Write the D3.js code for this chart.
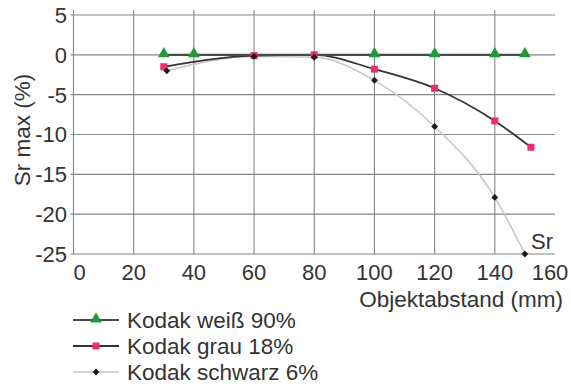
<!DOCTYPE html>
<html>
<head>
<meta charset="utf-8">
<script src="https://cdn.jsdelivr.net/npm/d3@7.9.0/dist/d3.min.js"></script>
<style>
  body { margin: 0; background: #fff; }
  svg text { font-family: "Liberation Sans", Arial, sans-serif; fill: #333; }
</style>
</head>
<body>
<svg id="chart" width="571" height="390"></svg>
<script>
// data
const xTicks = [0, 20, 40, 60, 80, 100, 120, 140, 160];
const yTicks = [5, 0, -5, -10, -15, -20, -25];

const weissX = [30, 40, 100, 120, 140, 150];
const weissY = [0, 0, 0, 0, 0, 0];

const grauX = [30, 60, 80, 100, 120, 140, 152];
const grauY = [-1.5, -0.1, 0, -1.8, -4.2, -8.3, -11.6];

const schwarzX = [31, 60, 80, 100, 120, 140, 150];
const schwarzY = [-2, -0.2, -0.3, -3.2, -9.0, -17.9, -25];

const series = [
  { name: "Kodak schwarz 6%", xs: schwarzX, ys: schwarzY, line: "#c9c9c9", lw: 1.6, marker: "diamond", color: "#1a1a1a" },
  { name: "Kodak grau 18%", xs: grauX, ys: grauY, line: "#333", lw: 1.8, marker: "square", color: "#ee2d6b" },
  { name: "Kodak weiß 90%", xs: weissX, ys: weissY, line: "#4a4a4a", lw: 2.2, marker: "triangle", color: "#1f9a3c" }
];
const legendOrder = ["Kodak weiß 90%", "Kodak grau 18%", "Kodak schwarz 6%"];
const markerOrder = ["Kodak weiß 90%", "Kodak grau 18%", "Kodak schwarz 6%"];

const svg = d3.select("#chart");
const x = d3.scaleLinear().domain([0, 160]).range([73.5, 555]);
const y = d3.scaleLinear().domain([-25, 5]).range([254, 15]);

// grid
const grid = svg.append("g").attr("stroke", "#858585").attr("stroke-width", 1.1);
grid.selectAll(".v")
  .data(xTicks.filter(d => d < 160))
  .join("line")
  .attr("x1", d => x(d)).attr("x2", d => x(d))
  .attr("y1", y(5) - 5).attr("y2", y(-25));
grid.selectAll(".h")
  .data(yTicks)
  .join("line")
  .attr("x1", x(0) - 3).attr("x2", x(160))
  .attr("y1", d => y(d)).attr("y2", d => y(d));

// tick labels
svg.append("g")
  .selectAll("text")
  .data(yTicks)
  .join("text")
  .attr("x", 67)
  .attr("y", d => y(d))
  .attr("dy", "0.36em")
  .attr("text-anchor", "end")
  .style("font-size", "22px")
  .text(d => d);

svg.append("g")
  .selectAll("text")
  .data(xTicks)
  .join("text")
  .attr("x", (d, i) => x(d) + (i === 0 ? 6 : i === xTicks.length - 1 ? -5 : 0))
  .attr("y", 280)
  .attr("text-anchor", "middle")
  .style("font-size", "22px")
  .text(d => d);

// axis titles
svg.append("text")
  .attr("x", 563).attr("y", 307)
  .attr("text-anchor", "end")
  .style("font-size", "22.5px")
  .text("Objektabstand (mm)");

svg.append("text")
  .attr("transform", "translate(30,130) rotate(-90)")
  .attr("text-anchor", "middle")
  .style("font-size", "22.5px")
  .text("Sr max (%)");

svg.append("text")
  .attr("x", 531).attr("y", 249)
  .style("font-size", "22px")
  .text("Sr");

// markers
function drawMarker(g, type, color, cx, cy) {
  if (type === "triangle") {
    g.append("path").attr("d", d3.symbol(d3.symbolTriangle, 60)()).attr("transform", `translate(${cx},${cy - 1})`).attr("fill", color);
  } else if (type === "square") {
    g.append("rect").attr("x", cx - 3.5).attr("y", cy - 3.5).attr("width", 7).attr("height", 7).attr("fill", color);
  } else {
    g.append("path").attr("d", d3.symbol(d3.symbolDiamond2, 30)()).attr("transform", `translate(${cx},${cy})`).attr("fill", color);
  }
}

const line = d3.line().curve(d3.curveMonotoneX);

series.forEach(s => {
  const pts = s.xs.map((v, i) => [x(v), y(s.ys[i])]);
  svg.append("path")
    .attr("d", line(pts))
    .attr("fill", "none")
    .attr("stroke", s.line)
    .attr("stroke-width", s.lw);
});
markerOrder.forEach(name => {
  const s = series.find(d => d.name === name);
  const g = svg.append("g");
  s.xs.forEach((v, i) => drawMarker(g, s.marker, s.color, x(v), y(s.ys[i])));
});

// legend
const legend = svg.append("g");
legendOrder.forEach((name, i) => {
  const s = series.find(d => d.name === name);
  const ly = 320 + i * 26;
  legend.append("line")
    .attr("x1", 73).attr("x2", 119)
    .attr("y1", ly).attr("y2", ly)
    .attr("stroke", s.line).attr("stroke-width", s.lw);
  drawMarker(legend, s.marker, s.color, 96, ly);
  legend.append("text")
    .attr("x", 127).attr("y", ly)
    .attr("dy", "0.36em")
    .style("font-size", "22.5px")
    .text(name);
});
</script>
</body>
</html>
